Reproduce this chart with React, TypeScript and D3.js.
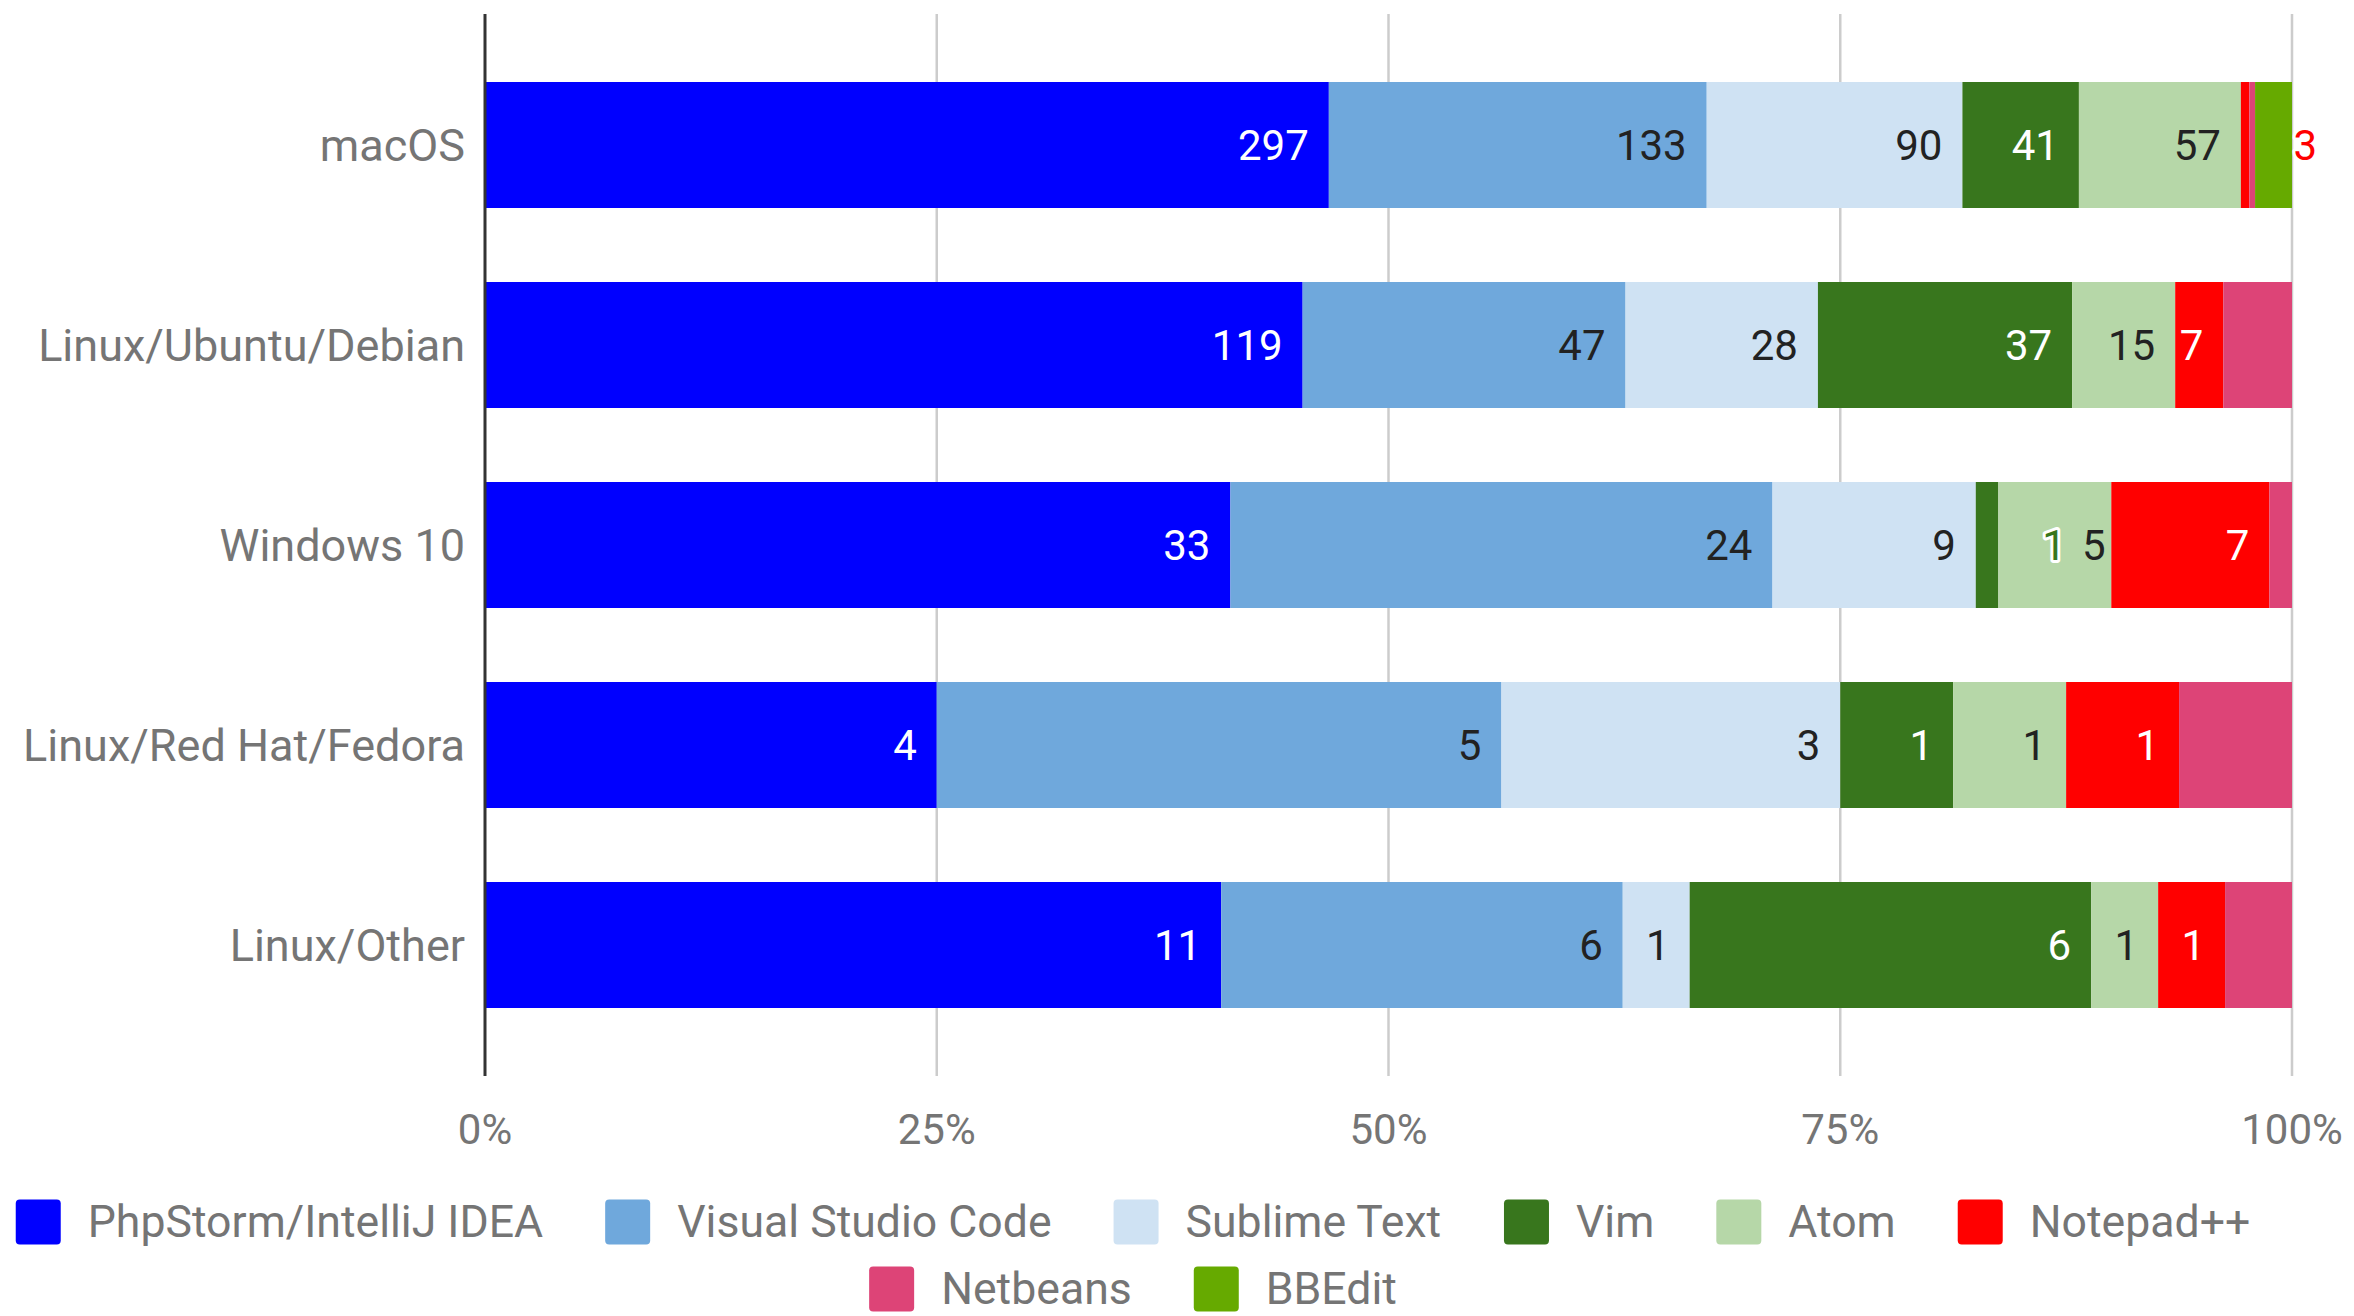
import React from "react";
import * as d3 from "d3";

const platforms = ["macOS", "Linux/Ubuntu/Debian", "Windows 10", "Linux/Red Hat/Fedora", "Linux/Other"];
const editors = ["PhpStorm/IntelliJ IDEA", "Visual Studio Code", "Sublime Text", "Vim", "Atom", "Notepad++", "Netbeans", "BBEdit"];
const editorColors = ["#0000ff", "#6fa8dc", "#cfe2f3", "#38761d", "#b6d7a8", "#ff0000", "#dd4477", "#66aa00"];
const labeled = [true, true, true, true, true, true, false, false];

const phpstorm = [297, 119, 33, 4, 11];
const vscode = [133, 47, 24, 5, 6];
const sublime = [90, 28, 9, 3, 1];
const vim = [41, 37, 1, 1, 6];
const atom = [57, 15, 5, 1, 1];
const notepad = [3, 7, 7, 1, 1];
const netbeans = [2, 10, 1, 1, 1];
const bbedit = [13, 0, 0, 0, 0];
const seriesValues = [phpstorm, vscode, sublime, vim, atom, notepad, netbeans, bbedit];

const tickValues = [0, 0.25, 0.5, 0.75, 1];

const W = 2354;
const H = 1316;
const FONT = "Roboto, 'Noto Sans', sans-serif";
const FS = 42;
const FS_CAT = 45;
const FS_LEG = 44.6;

function measure(text: string, size: number) {
  const c = document.createElement("canvas");
  const ctx = c.getContext("2d")!;
  ctx.font = `${size}px Roboto`;
  return ctx.measureText(text).width;
}

export default function App() {
  const left = 485;
  const right = 2292;
  const top = 14;
  const bottom = 1076;

  const x = d3.scaleLinear().domain([0, 1]).range([left, right]);
  const y = d3.scaleBand<string>().domain(platforms).range([top, bottom]).paddingInner(0.37).paddingOuter(0.34);

  const rows = platforms.map((p, i) => {
    const vals = seriesValues.map((s) => s[i]);
    const total = d3.sum(vals);
    let acc = 0;
    return vals.map((v, k) => {
      const x0 = acc / total;
      acc += v;
      return { p, k, v, x0, x1: acc / total };
    });
  });

  // label layout per row
  const labels: any[] = [];
  rows.forEach((segs) => {
    let prevRight = -Infinity;
    segs.forEach((s) => {
      if (!labeled[s.k] || s.v <= 0) return;
      const txt = String(s.v);
      const tw = measure(txt, FS);
      const segW = x(s.x1) - x(s.x0);
      const cy = y(s.p)! + y.bandwidth() / 2;
      const col = editorColors[s.k];
      if (segW < tw + 20) {
        const lx = x(s.x1) + 44;
        labels.push({ key: s.p + s.k, txt, x: lx, y: cy, anchor: "start", fill: col, halo: true });
        prevRight = lx + tw;
      } else {
        let rx = x(s.x1) - 20;
        if (rx - tw < prevRight + 16) rx = Math.min(x(s.x1) - 2, prevRight + 16 + tw);
        const dark = d3.lab(col).l < 60;
        labels.push({ key: s.p + s.k, txt, x: rx, y: cy, anchor: "end", fill: dark ? "#ffffff" : "#222222", halo: false });
        prevRight = rx;
      }
    });
  });

  // legend layout
  const sw = 45;
  const swGap = 27;
  const itemGap = 62;
  const maxW = 2300;
  const items = editors.map((e, k) => ({ e, k, w: sw + swGap + measure(e, FS_LEG) }));
  const legendRows: { e: string; k: number; w: number }[][] = [[]];
  let cur = 0;
  items.forEach((it) => {
    const add = (legendRows[legendRows.length - 1].length ? itemGap : 0) + it.w;
    if (cur + add > maxW && legendRows[legendRows.length - 1].length) {
      legendRows.push([it]);
      cur = it.w;
    } else {
      legendRows[legendRows.length - 1].push(it);
      cur += add;
    }
  });
  const legendCenter = 1133;
  const legendY = [1222, 1289];

  return (
    <svg width={W} height={H} style={{ position: "absolute", left: 0, top: 0, background: "#fff" }} fontFamily={FONT}>
      {tickValues.filter((t) => t > 0).map((t) => (
        <line key={t} x1={x(t)} x2={x(t)} y1={top} y2={bottom} stroke="#cccccc" strokeWidth={2.5} />
      ))}
      {rows.map((segs) =>
        segs.map((s) =>
          s.v > 0 ? (
            <rect
              key={s.p + s.k}
              x={x(s.x0)}
              y={y(s.p)!}
              width={x(s.x1) - x(s.x0)}
              height={y.bandwidth()}
              fill={editorColors[s.k]}
            />
          ) : null
        )
      )}
      {labels.map((l) => (
        <text
          key={"l" + l.key}
          x={l.x}
          y={l.y}
          dominantBaseline="central"
          textAnchor={l.anchor}
          fontSize={FS}
          fill={l.fill}
          stroke={l.halo ? "#fff" : "none"}
          strokeWidth={l.halo ? 6 : 0}
          strokeLinejoin="round"
          style={{ paintOrder: "stroke" }}
        >
          {l.txt}
        </text>
      ))}
      <line x1={x(0)} x2={x(0)} y1={top} y2={bottom} stroke="#333333" strokeWidth={3} />
      {platforms.map((p) => (
        <text
          key={p}
          x={left - 20}
          y={y(p)! + y.bandwidth() / 2}
          dominantBaseline="central"
          textAnchor="end"
          fontSize={FS_CAT}
          fill="#757575"
        >
          {p}
        </text>
      ))}
      {tickValues.map((t) => (
        <text key={"t" + t} x={x(t)} y={1129} dominantBaseline="central" textAnchor="middle" fontSize={FS} fill="#757575">
          {d3.format(".0%")(t)}
        </text>
      ))}
      {legendRows.map((row, ri) => {
        const total = d3.sum(row, (r) => r.w) + itemGap * (row.length - 1);
        let cx = legendCenter - total / 2;
        return row.map((it) => {
          const x0 = cx;
          cx += it.w + itemGap;
          const cy = legendY[ri];
          return (
            <g key={it.e}>
              <rect x={x0} y={cy - sw / 2} width={sw} height={sw} rx={4} fill={editorColors[it.k]} />
              <text x={x0 + sw + swGap} y={cy} dominantBaseline="central" fontSize={FS_LEG} fill="#757575">
                {it.e}
              </text>
            </g>
          );
        });
      })}
    </svg>
  );
}
